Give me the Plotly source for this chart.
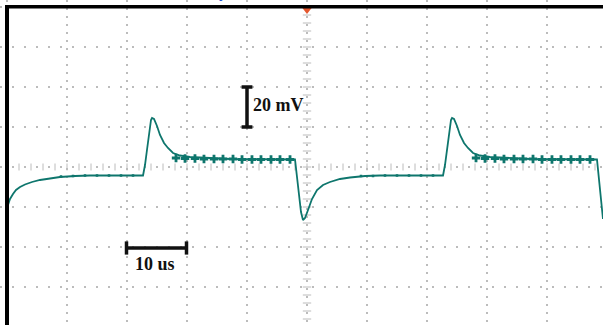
import numpy as np
import plotly.graph_objects as go

# ---- data (time in us, voltage in mV) read from the scope capture ----
t_us = [0.17, 0.5, 1.0, 1.5, 2.17, 3.0, 4.17, 5.5, 7.17, 8.83, 11.33, 13.83,
        22.67, 23.0, 23.33, 23.67, 24.0, 24.17, 24.5, 25.0, 25.5, 26.17, 26.83,
        27.67, 28.83, 30.5, 33.0, 37.17, 48.0,
        48.33, 48.67, 49.0, 49.33, 49.67, 50.17, 50.83, 51.67, 52.67, 53.83,
        55.5, 57.17, 59.67, 62.17, 72.67,
        73.0, 73.33, 73.67, 74.0, 74.17, 74.5, 75.0, 75.5, 76.17, 76.83,
        77.67, 78.83, 80.5, 83.0, 87.17, 98.33,
        98.67, 99.0, 99.33]
v_mv = [-19, -16, -13.5, -11.5, -10, -8.75, -7.5, -6.5, -5.75, -5, -4.5, -4.25,
        -4.25, 1, 8.5, 17.5, 23.5, 24.5, 24, 20.5, 16, 12, 9.5,
        7, 5.75, 5, 4.5, 4, 3.75,
        -4, -14, -22.5, -26.5, -25.5, -21.5, -16, -11.5, -9, -7.5,
        -6, -5.25, -4.5, -4.25, -4.25,
        1, 8.5, 17.5, 23.5, 24.5, 24, 20.5, 16, 12, 9.5,
        7, 5.75, 5, 4.5, 4, 3.75,
        -6, -18, -26]

# plateau ripple marks
hi_t = [28.17, 29.67, 31.33, 32.83, 34.5, 36.0, 37.67, 39.17, 40.83, 42.33,
        44.0, 45.5, 47.17,
        78.17, 79.67, 81.33, 82.83, 84.5, 86.0, 87.67, 89.17, 90.83, 92.33,
        94.0, 95.5, 97.17]
hi_v = [4.5, 4.25, 4.25, 4.0, 4.0, 4.0, 4.0, 3.75, 3.75, 3.75,
        3.75, 3.75, 3.75,
        4.5, 4.25, 4.25, 4.0, 4.0, 4.0, 4.0, 3.75, 3.75, 3.75,
        3.75, 3.75, 3.75]
lo_t = [9.0, 11.0, 13.0, 15.0, 17.0, 19.0, 21.0,
        59.0, 61.0, 63.0, 65.0, 67.0, 69.0, 71.0]
lo_v = [-4.75, -4.5, -4.25, -4.25, -4.25, -4.25, -4.25,
        -4.5, -4.5, -4.25, -4.25, -4.25, -4.25, -4.25]

V_SCALE_MV = 20   # scale bar
T_SCALE_US = 10   # scale bar

TRACE = "#0e766d"
GRID = "#bcbcbc"
INK = "#111111"

# pixel helpers for layout placement (603x325, 60 px/div, 40 px/div)
def tx(px):
    return (px - 7) / 6.0

def vy(py):
    return (167 - py) / 2.0

fig = go.Figure()

# centre-line graticule ticks
ct_v = np.arange(-76, 84, 4)
fig.add_trace(go.Scatter(x=[50] * len(ct_v), y=ct_v, mode="markers",
                         marker=dict(symbol="line-ew", size=6,
                                     line=dict(color=GRID, width=1)),
                         hoverinfo="skip"))
ct_t = np.arange(0, 100, 2)
fig.add_trace(go.Scatter(x=ct_t, y=[0] * len(ct_t), mode="markers",
                         marker=dict(symbol="line-ns", size=5,
                                     line=dict(color=GRID, width=1)),
                         hoverinfo="skip"))

# waveform
fig.add_trace(go.Scatter(x=t_us, y=v_mv, mode="lines",
                         line=dict(color=TRACE, width=1.8)))
fig.add_trace(go.Scatter(x=hi_t, y=hi_v, mode="markers",
                         marker=dict(symbol="cross", size=7, color=TRACE)))
fig.add_trace(go.Scatter(x=lo_t, y=lo_v, mode="markers",
                         marker=dict(symbol="square", size=2.5, color=TRACE)))

# trigger marker
fig.add_trace(go.Scatter(x=[50], y=[vy(10)], mode="markers",
                         marker=dict(symbol="triangle-down", size=8,
                                     color="#e4572e")))

shapes = []
# frame (top and left)
shapes.append(dict(type="rect", xref="paper", yref="paper",
                   x0=5 / 603, x1=9 / 603, y0=0, y1=1 - 5 / 325,
                   fillcolor="black", line=dict(width=0)))
shapes.append(dict(type="rect", xref="paper", yref="paper",
                   x0=5 / 603, x1=1, y0=1 - 8.5 / 325, y1=1 - 5 / 325,
                   fillcolor="black", line=dict(width=0)))

# vertical scale bar
bx = tx(247)
b0 = vy(127)
shapes.append(dict(type="line", x0=bx, x1=bx, y0=b0, y1=b0 + V_SCALE_MV,
                   line=dict(color=INK, width=3.5)))
for yy in (b0, b0 + V_SCALE_MV):
    shapes.append(dict(type="line", x0=bx - 0.9, x1=bx + 0.9, y0=yy, y1=yy,
                       line=dict(color=INK, width=3.5)))
# horizontal scale bar
hy = vy(248)
h0 = tx(126.5)
shapes.append(dict(type="line", x0=h0, x1=h0 + T_SCALE_US, y0=hy, y1=hy,
                   line=dict(color=INK, width=3.5)))
for xx in (h0, h0 + T_SCALE_US):
    shapes.append(dict(type="line", x0=xx, x1=xx, y0=hy - 3.3, y1=hy + 3.3,
                       line=dict(color=INK, width=3.5)))

annotations = [
    dict(x=tx(251), y=vy(105), text="<b>%d mV</b>" % V_SCALE_MV,
         showarrow=False, xanchor="left", yanchor="middle",
         font=dict(family="Liberation Serif", size=18, color=INK)),
    dict(x=h0 + T_SCALE_US / 2 - 0.3, y=vy(264), text="<b>%d us</b>" % T_SCALE_US,
         showarrow=False, xanchor="center", yanchor="middle",
         font=dict(family="Liberation Serif", size=18, color=INK)),
    dict(x=223 / 603, y=1 - 3 / 325, xref="paper", yref="paper", text="y",
         showarrow=False, xanchor="center", yanchor="bottom",
         font=dict(family="Liberation Sans", size=16, color="#1f4fd1")),
]

fig.update_layout(
    width=603, height=325,
    margin=dict(l=0, r=0, t=0, b=0),
    paper_bgcolor="white", plot_bgcolor="white",
    showlegend=False,
    shapes=shapes, annotations=annotations,
    xaxis=dict(range=[tx(0), tx(603)], tick0=0, dtick=10, showgrid=True,
               gridcolor=GRID, gridwidth=1.5, griddash="1.5px,6.5px",
               showticklabels=False, zeroline=False, ticks="",
               showline=False, fixedrange=True),
    yaxis=dict(range=[vy(325), vy(0)], tick0=0, dtick=20, showgrid=True,
               gridcolor=GRID, gridwidth=1.5, griddash="1.5px,10.5px",
               showticklabels=False, zeroline=False, ticks="",
               showline=False, fixedrange=True),
)

fig.write_html("out.html")
